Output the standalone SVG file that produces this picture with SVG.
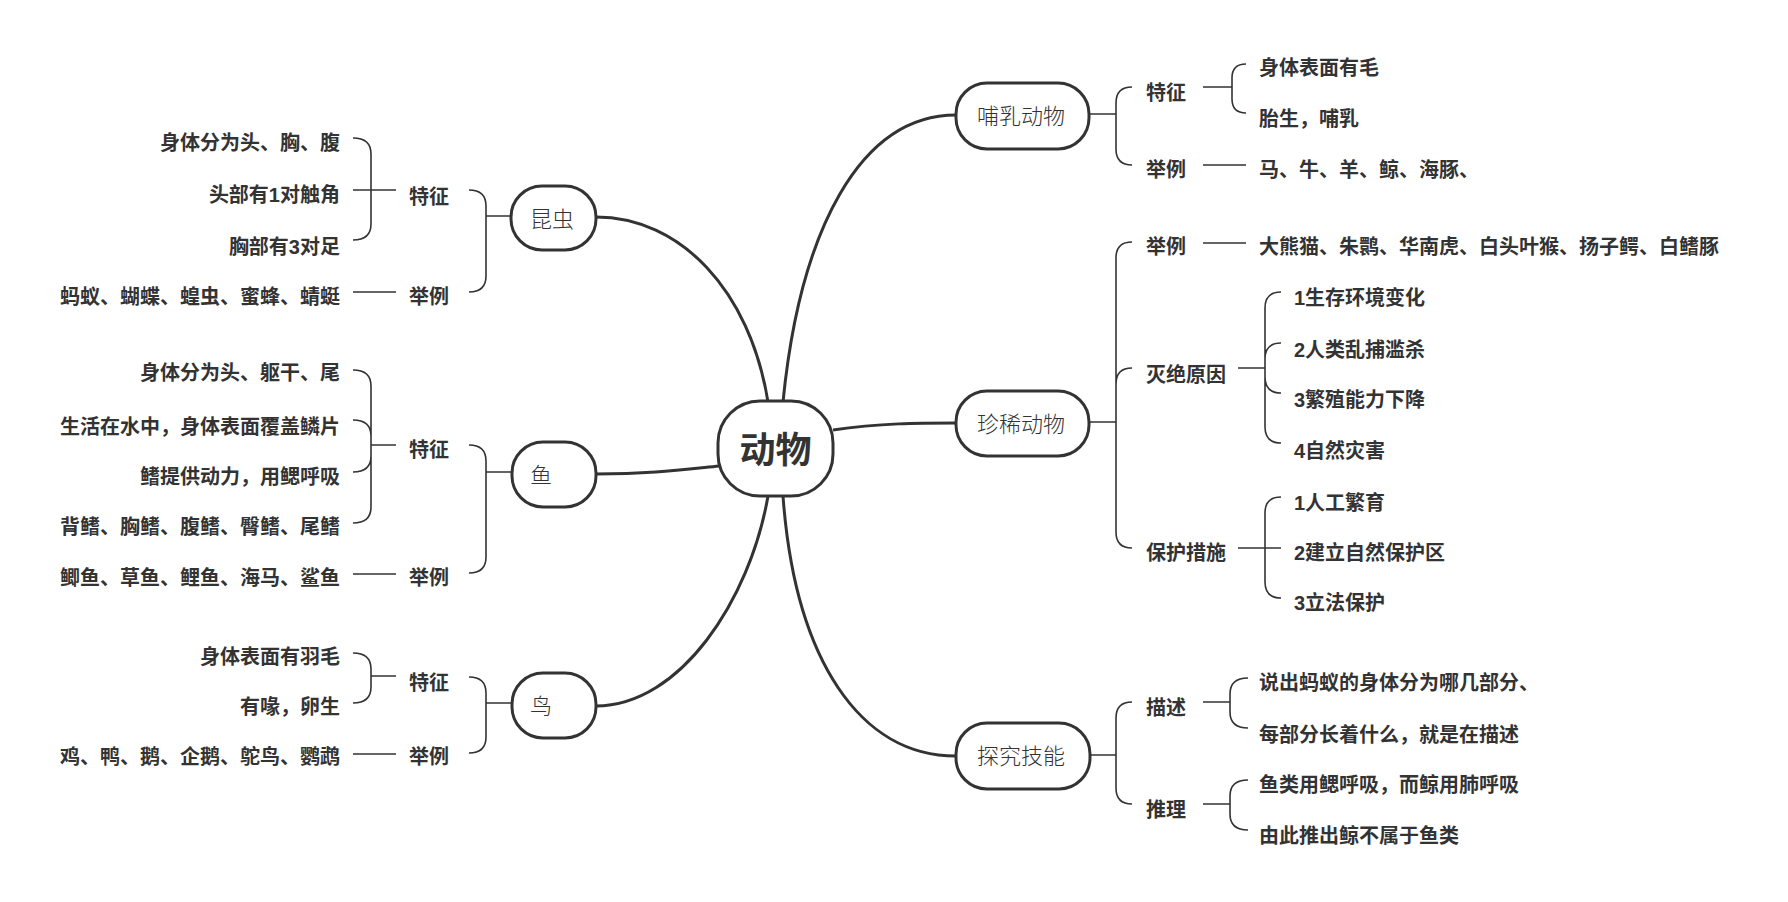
<svg xmlns="http://www.w3.org/2000/svg" width="1788" height="902" viewBox="0 0 1788 902">
<style>
.bg{fill:#fff}
.nd{fill:#fff;stroke:#333;stroke-width:3}
.main{fill:none;stroke:#333;stroke-width:3}
.sub{fill:none;stroke:#333;stroke-width:1.6}
text{font-family:"Liberation Sans","Noto Sans CJK SC",sans-serif;fill:#333;dominant-baseline:central}
.nl{font-size:22px;font-weight:300}
.root{font-size:36px;font-weight:bold;text-anchor:middle}
.t{font-size:20px;font-weight:bold}
.r{text-anchor:end}
</style>
<rect class="bg" x="0" y="0" width="1788" height="902"/>
<g id="connectors">
<path class="main" d="M 596 217 C 680 217, 750 290, 768 402"/>
<path class="main" d="M 596 474 C 650 474, 680 470, 719 466"/>
<path class="main" d="M 596 706 C 680 706, 750 600, 768 496"/>
<path class="main" d="M 956 115 C 860 115, 800 230, 783 402"/>
<path class="main" d="M 833 430 C 880 423, 920 423, 956 423"/>
<path class="main" d="M 783 496 C 795 660, 860 756, 956 756"/>
<!-- 昆虫 -->
<path class="sub" d="M 511 216 H 486 M 469 190 Q 486 190 486 206 V 276 Q 486 292 469 292"/>
<path class="sub" d="M 353 138 Q 371 138 371 154 V 224 Q 371 240 353 240 M 353 190 H 396 M 353 292 H 396"/>
<!-- 鱼 -->
<path class="sub" d="M 512 472 H 486 M 469 445 Q 486 445 486 461 V 557 Q 486 573 469 573"/>
<path class="sub" d="M 353 370 Q 371 370 371 386 V 507 Q 371 523 353 523 M 353 420 Q 371 420 371 436 M 353 472 Q 371 472 371 456 M 371 445 H 396 M 353 574 H 396"/>
<!-- 鸟 -->
<path class="sub" d="M 512 703 H 486 M 469 677 Q 486 677 486 693 V 737 Q 486 753 469 753"/>
<path class="sub" d="M 353 653 Q 371 653 371 669 V 687 Q 371 703 353 703 M 371 676 H 396 M 353 754 H 396"/>
<!-- 哺乳动物 -->
<path class="sub" d="M 1089 114 H 1116 M 1132 87 Q 1116 87 1116 103 V 149 Q 1116 165 1132 165"/>
<path class="sub" d="M 1203 87 H 1232 M 1246 64 Q 1232 64 1232 78 V 99 Q 1232 113 1246 113 M 1203 165 H 1246"/>
<!-- 珍稀动物 -->
<path class="sub" d="M 1089 422 H 1116 M 1132 242 Q 1116 242 1116 258 V 532 Q 1116 548 1132 548 M 1132 368 Q 1116 368 1116 384"/>
<path class="sub" d="M 1203 243 H 1246"/>
<path class="sub" d="M 1238 368 H 1265 M 1281 292 Q 1265 292 1265 308 V 427 Q 1265 443 1281 443 M 1281 343 Q 1265 343 1265 359 M 1281 393 Q 1265 393 1265 377"/>
<path class="sub" d="M 1238 548 H 1281 M 1281 497 Q 1265 497 1265 513 V 582 Q 1265 598 1281 598"/>
<!-- 探究技能 -->
<path class="sub" d="M 1090 755 H 1116 M 1132 702 Q 1116 702 1116 718 V 788 Q 1116 804 1132 804"/>
<path class="sub" d="M 1203 702 H 1230 M 1248 678 Q 1230 678 1230 694 V 712 Q 1230 728 1248 728"/>
<path class="sub" d="M 1203 804 H 1230 M 1248 780 Q 1230 780 1230 796 V 814 Q 1230 830 1248 830"/>
</g>
<g id="root"><rect class="nd" x="718" y="401" width="115" height="95" rx="42"/><text class="root" x="775.5" y="450">动物</text></g>
<g id="kunchong"><rect class="nd" x="511" y="186" width="85" height="64" rx="31"/><text class="nl" x="530" y="219">昆虫</text></g>
<g id="yu"><rect class="nd" x="512" y="442" width="84" height="65" rx="31"/><text class="nl" x="530" y="475">鱼</text></g>
<g id="niao"><rect class="nd" x="512" y="673" width="84" height="65" rx="31"/><text class="nl" x="530" y="706">鸟</text></g>
<g id="buru"><rect class="nd" x="956" y="83" width="133" height="66" rx="31"/><text class="nl" x="977" y="116">哺乳动物</text></g>
<g id="zhenxi"><rect class="nd" x="956" y="391" width="133" height="65" rx="31"/><text class="nl" x="977" y="424">珍稀动物</text></g>
<g id="tanjiu"><rect class="nd" x="956" y="723" width="134" height="66" rx="31"/><text class="nl" x="977" y="756">探究技能</text></g>
<g id="kunchong-sub">
<text class="t" x="409" y="197">特征</text>
<text class="t" x="409" y="297">举例</text>
<text class="t r" x="340" y="143">身体分为头、胸、腹</text>
<text class="t r" x="340" y="195">头部有1对触角</text>
<text class="t r" x="340" y="247">胸部有3对足</text>
<text class="t r" x="340" y="297">蚂蚁、蝴蝶、蝗虫、蜜蜂、蜻蜓</text>
</g>
<g id="yu-sub">
<text class="t" x="409" y="450">特征</text>
<text class="t" x="409" y="578">举例</text>
<text class="t r" x="340" y="373">身体分为头、躯干、尾</text>
<text class="t r" x="340" y="427">生活在水中，身体表面覆盖鳞片</text>
<text class="t r" x="340" y="477">鳍提供动力，用鳃呼吸</text>
<text class="t r" x="340" y="527">背鳍、胸鳍、腹鳍、臀鳍、尾鳍</text>
<text class="t r" x="340" y="578">鲫鱼、草鱼、鲤鱼、海马、鲨鱼</text>
</g>
<g id="niao-sub">
<text class="t" x="409" y="683">特征</text>
<text class="t" x="409" y="757">举例</text>
<text class="t r" x="340" y="657">身体表面有羽毛</text>
<text class="t r" x="340" y="707">有喙，卵生</text>
<text class="t r" x="340" y="757">鸡、鸭、鹅、企鹅、鸵鸟、鹦鹉</text>
</g>
<g id="buru-sub">
<text class="t" x="1146" y="93">特征</text>
<text class="t" x="1146" y="170">举例</text>
<text class="t" x="1259" y="68">身体表面有毛</text>
<text class="t" x="1259" y="119">胎生，哺乳</text>
<text class="t" x="1259" y="170">马、牛、羊、鲸、海豚、</text>
</g>
<g id="zhenxi-sub">
<text class="t" x="1146" y="247">举例</text>
<text class="t" x="1146" y="375">灭绝原因</text>
<text class="t" x="1146" y="553">保护措施</text>
<text class="t" x="1259" y="247">大熊猫、朱鹮、华南虎、白头叶猴、扬子鳄、白鳍豚</text>
<text class="t" x="1294" y="298">1生存环境变化</text>
<text class="t" x="1294" y="350">2人类乱捕滥杀</text>
<text class="t" x="1294" y="400">3繁殖能力下降</text>
<text class="t" x="1294" y="451">4自然灾害</text>
<text class="t" x="1294" y="503">1人工繁育</text>
<text class="t" x="1294" y="553">2建立自然保护区</text>
<text class="t" x="1294" y="603">3立法保护</text>
</g>
<g id="tanjiu-sub">
<text class="t" x="1146" y="708">描述</text>
<text class="t" x="1146" y="810">推理</text>
<text class="t" x="1259" y="683">说出蚂蚁的身体分为哪几部分、</text>
<text class="t" x="1259" y="735">每部分长着什么，就是在描述</text>
<text class="t" x="1259" y="785">鱼类用鳃呼吸，而鲸用肺呼吸</text>
<text class="t" x="1259" y="836">由此推出鲸不属于鱼类</text>
</g>
</svg>
